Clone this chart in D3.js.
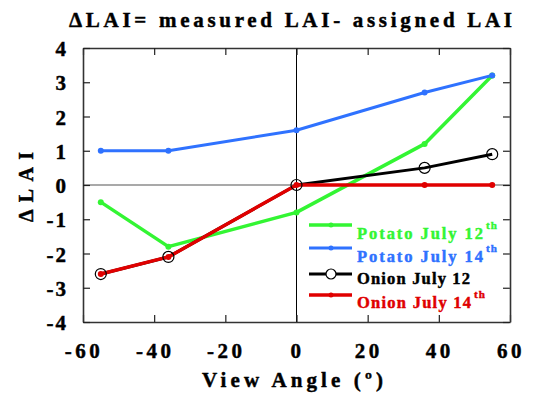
<!DOCTYPE html>
<html>
<head>
<meta charset="utf-8">
<script src="https://cdn.jsdelivr.net/npm/d3@7"></script>
<style>
  html, body { margin: 0; padding: 0; background: #fff; }
</style>
</head>
<body>
<svg id="chart" width="533" height="394"></svg>
<script>
// View angles (degrees) and LAI differences for each campaign
const angles = [-55, -36, 0, 36, 55];
const potatoJul12 = [-0.5, -1.8, -0.8, 1.2, 3.2];
const potatoJul14 = [1.0, 1.0, 1.6, 2.7, 3.2];
const onionJul12 = [-2.6, -2.1, 0, 0.5, 0.9];
const onionJul14 = [-2.6, -2.1, 0, 0, 0];

const xTicks = [-60, -40, -20, 0, 20, 40, 60];
const yTicks = [-4, -3, -2, -1, 0, 1, 2, 3, 4];

const seriesNames = ["Potato July 12", "Potato July 14", "Onion July 12", "Onion July 14"];
const seriesSup = ["th", "th", "", "th"];

const series = [
  { name: seriesNames[0], sup: seriesSup[0], values: potatoJul12, color: "#33f533", width: 3.5, marker: "dot" },
  { name: seriesNames[1], sup: seriesSup[1], values: potatoJul14, color: "#2f72ff", width: 3, marker: "dot" },
  { name: seriesNames[2], sup: seriesSup[2], values: onionJul12, color: "#000000", width: 3, marker: "circle" },
  { name: seriesNames[3], sup: seriesSup[3], values: onionJul14, color: "#e00000", width: 3.5, marker: "dot" }
];

const svg = d3.select("#chart");
const plotLeft = 83, plotRight = 510, plotTop = 48, plotBottom = 322;

const x = d3.scaleLinear().domain([-60, 60]).range([plotLeft, plotRight]);
const y = d3.scaleLinear().domain([-4, 4]).range([plotBottom, plotTop]);

// Heavy serif labels
function label(sel, color = "#000") {
  return sel.attr("font-family", "Liberation Serif").attr("font-weight", "bold")
    .attr("fill", color).attr("stroke", color).attr("stroke-width", 0.45);
}

// Title
svg.append("text").call(label)
  .attr("x", 69).attr("y", 27)
  .attr("font-size", 21)
  .attr("textLength", 443)
  .attr("lengthAdjust", "spacing")
  .text("\u0394LAI= measured LAI- assigned LAI");

// Reference lines at x = 0 and y = 0
svg.append("line")
  .attr("x1", plotLeft).attr("x2", plotRight)
  .attr("y1", y(0)).attr("y2", y(0))
  .attr("stroke", "#555").attr("stroke-width", 1.2);
svg.append("line")
  .attr("x1", x(0)).attr("x2", x(0))
  .attr("y1", plotTop).attr("y2", plotBottom)
  .attr("stroke", "#000").attr("stroke-width", 1);

// Frame with inward ticks on all four sides
const tickLen = 7;
const axisOpts = (axis) => axis.tickSizeInner(-tickLen).tickSizeOuter(0).tickFormat("");
const gB = svg.append("g").attr("transform", `translate(0,${plotBottom})`)
  .call(axisOpts(d3.axisBottom(x).tickValues(xTicks)));
const gT = svg.append("g").attr("transform", `translate(0,${plotTop})`)
  .call(axisOpts(d3.axisTop(x).tickValues(xTicks)));
const gL = svg.append("g").attr("transform", `translate(${plotLeft},0)`)
  .call(axisOpts(d3.axisLeft(y).tickValues(yTicks)));
const gR = svg.append("g").attr("transform", `translate(${plotRight},0)`)
  .call(axisOpts(d3.axisRight(y).tickValues(yTicks)));
[gB, gT, gL, gR].forEach(g => {
  g.selectAll("path").attr("stroke", "#333").attr("stroke-width", 1.6);
  g.selectAll("line").attr("stroke", "#222").attr("stroke-width", 1.2);
});

// Tick labels
svg.append("g").selectAll("text").data(xTicks).join("text").call(label)
  .attr("x", d => x(d) + 1).attr("y", 358)
  .attr("text-anchor", "middle")
  .attr("font-size", 21)
  .attr("letter-spacing", 3.5)
  .text(d => d);
svg.append("g").selectAll("text").data(yTicks).join("text").call(label)
  .attr("x", 68).attr("y", d => y(d) + 8)
  .attr("text-anchor", "end")
  .attr("font-size", 21)
  .attr("letter-spacing", 2)
  .text(d => d);

// Axis titles
svg.append("text").call(label)
  .attr("x", 202).attr("y", 387)
  .attr("font-size", 21)
  .attr("textLength", 181)
  .attr("lengthAdjust", "spacing")
  .text("View Angle (\u00BA)");
svg.append("text").call(label)
  .attr("transform", "translate(33,222) rotate(-90)")
  .attr("font-size", 20)
  .attr("textLength", 70)
  .attr("lengthAdjust", "spacing")
  .text("\u0394LAI");

// Series lines
const line = d3.line().x((d, i) => x(angles[i])).y(d => y(d));
series.forEach(s => {
  svg.append("path")
    .datum(s.values)
    .attr("d", line)
    .attr("fill", "none")
    .attr("stroke", s.color)
    .attr("stroke-width", s.width)
    .attr("stroke-linejoin", "round");
});

// Markers
series.filter(s => s.marker === "dot").forEach(s => {
  svg.append("g").selectAll("circle").data(s.values).join("circle")
    .attr("cx", (d, i) => x(angles[i])).attr("cy", d => y(d))
    .attr("r", 3).attr("fill", s.color);
});
series.filter(s => s.marker === "circle").forEach(s => {
  svg.append("g").selectAll("circle").data(s.values).join("circle")
    .attr("cx", (d, i) => x(angles[i])).attr("cy", d => y(d))
    .attr("r", 5.5).attr("fill", "none")
    .attr("stroke", s.color).attr("stroke-width", 1.2);
});

// Legend
const legendLines = [225, 248, 274, 295];
const legendText = [239, 262, 284, 308];
const legendWidths = [126, 126, 113, 114];
const legend = svg.append("g");
series.forEach((s, i) => {
  const ly = legendLines[i];
  legend.append("line")
    .attr("x1", 309).attr("x2", 352).attr("y1", ly).attr("y2", ly)
    .attr("stroke", s.color).attr("stroke-width", s.width);
  if (s.marker === "circle") {
    legend.append("circle").attr("cx", 331).attr("cy", ly).attr("r", 5)
      .attr("fill", "#fff").attr("stroke", s.color).attr("stroke-width", 1.2);
  } else {
    legend.append("circle").attr("cx", 331).attr("cy", ly).attr("r", 2.5).attr("fill", s.color);
  }
  legend.append("text").call(label, s.color)
    .attr("x", 357).attr("y", legendText[i])
    .attr("font-size", 16.5)
    .attr("textLength", legendWidths[i])
    .attr("lengthAdjust", "spacing")
    .text(s.name);
  if (s.sup) {
    legend.append("text").call(label, s.color)
      .attr("x", 357 + legendWidths[i] + 3).attr("y", legendText[i] - 10)
      .attr("font-size", 11)
      .attr("letter-spacing", 1)
      .text(s.sup);
  }
});
</script>
</body>
</html>
